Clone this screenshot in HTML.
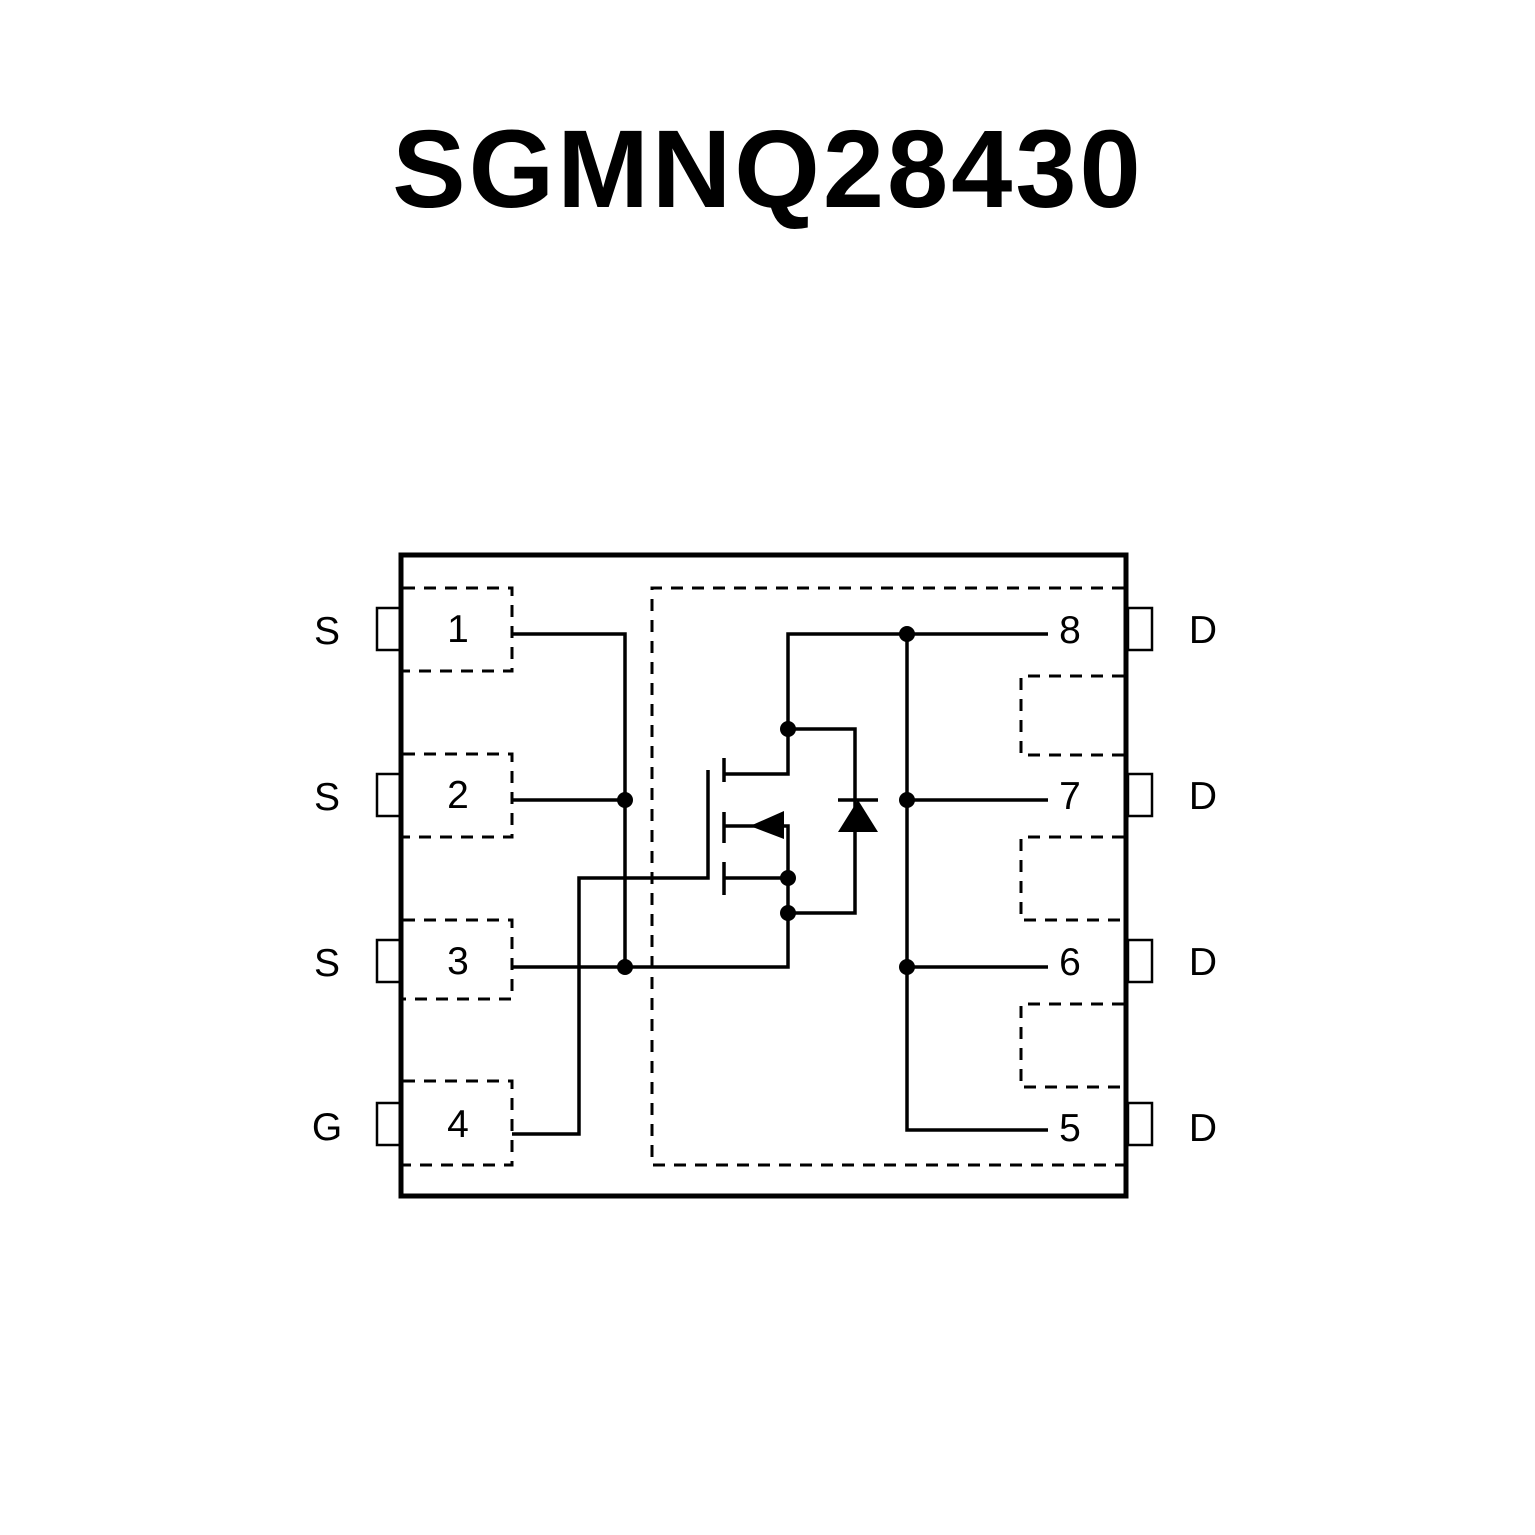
<!DOCTYPE html>
<html><head><style>body{margin:0;background:#fff}svg{display:block}</style></head><body>
<svg width="1535" height="1535" viewBox="0 0 1535 1535" xmlns="http://www.w3.org/2000/svg">
<rect width="1535" height="1535" fill="#fff"/>
<text x="768" y="207" text-anchor="middle" font-family="Liberation Sans, sans-serif" font-weight="bold" font-size="110" letter-spacing="3" fill="#000">SGMNQ28430</text>
<g fill="none" stroke="#000">
<rect x="401" y="555" width="725" height="641" stroke-width="5"/>
<g stroke-width="2.5">
<rect x="377" y="608" width="24" height="42"/><rect x="377" y="774" width="24" height="42"/>
<rect x="377" y="940" width="24" height="42"/><rect x="377" y="1103" width="24" height="42"/>
<rect x="1128" y="608" width="24" height="42"/><rect x="1128" y="774" width="24" height="42"/>
<rect x="1128" y="940" width="24" height="42"/><rect x="1128" y="1103" width="24" height="42"/>
</g>
<g stroke-width="3" stroke-dasharray="12 9">
<path d="M403 588H512V671H403"/><path d="M403 754H512V837H403"/>
<path d="M403 920H512V999H403"/><path d="M403 1081H512V1165H403"/>
<path d="M1124 588H652V1165H1124"/>
<path d="M1124 676H1021V755H1124"/><path d="M1124 837H1021V920H1124"/><path d="M1124 1004H1021V1087H1124"/>
</g>
<g stroke-width="3.5">
<path d="M512 634H625V967"/><path d="M512 800H625"/><path d="M512 967H788V826H776"/>
<path d="M512 1134H579V878H708V770"/>
<path d="M724 758V782M724 812V843M724 862V895"/>
<path d="M724 774H788V634H1048"/><path d="M724 878H788"/><path d="M724 826H760"/>
<path d="M788 729H855V913H788"/><path d="M838 800H878"/>
<path d="M907 634V1130H1048"/><path d="M907 800H1048"/><path d="M907 967H1048"/>
</g>
</g>
<g fill="#000">
<circle cx="625" cy="800" r="8"/><circle cx="625" cy="967" r="8"/>
<circle cx="788" cy="729" r="8"/><circle cx="788" cy="878" r="8"/><circle cx="788" cy="913" r="8"/>
<circle cx="907" cy="634" r="8"/><circle cx="907" cy="800" r="8"/><circle cx="907" cy="967" r="8"/>
<polygon points="750,826 784,811 784,839"/>
<polygon points="858,800 838,832 878,832"/>
</g>
<g font-family="Liberation Sans, sans-serif" font-size="39" fill="#000" text-anchor="middle">
<text x="327" y="644">S</text><text x="327" y="810">S</text><text x="327" y="976">S</text><text x="327" y="1140">G</text>
<text x="458" y="642">1</text><text x="458" y="808">2</text><text x="458" y="974">3</text><text x="458" y="1137">4</text>
<text x="1070" y="643">8</text><text x="1070" y="809">7</text><text x="1070" y="975">6</text><text x="1070" y="1141">5</text>
<text x="1203" y="643">D</text><text x="1203" y="809">D</text><text x="1203" y="975">D</text><text x="1203" y="1141">D</text>
</g>
</svg>
</body></html>
